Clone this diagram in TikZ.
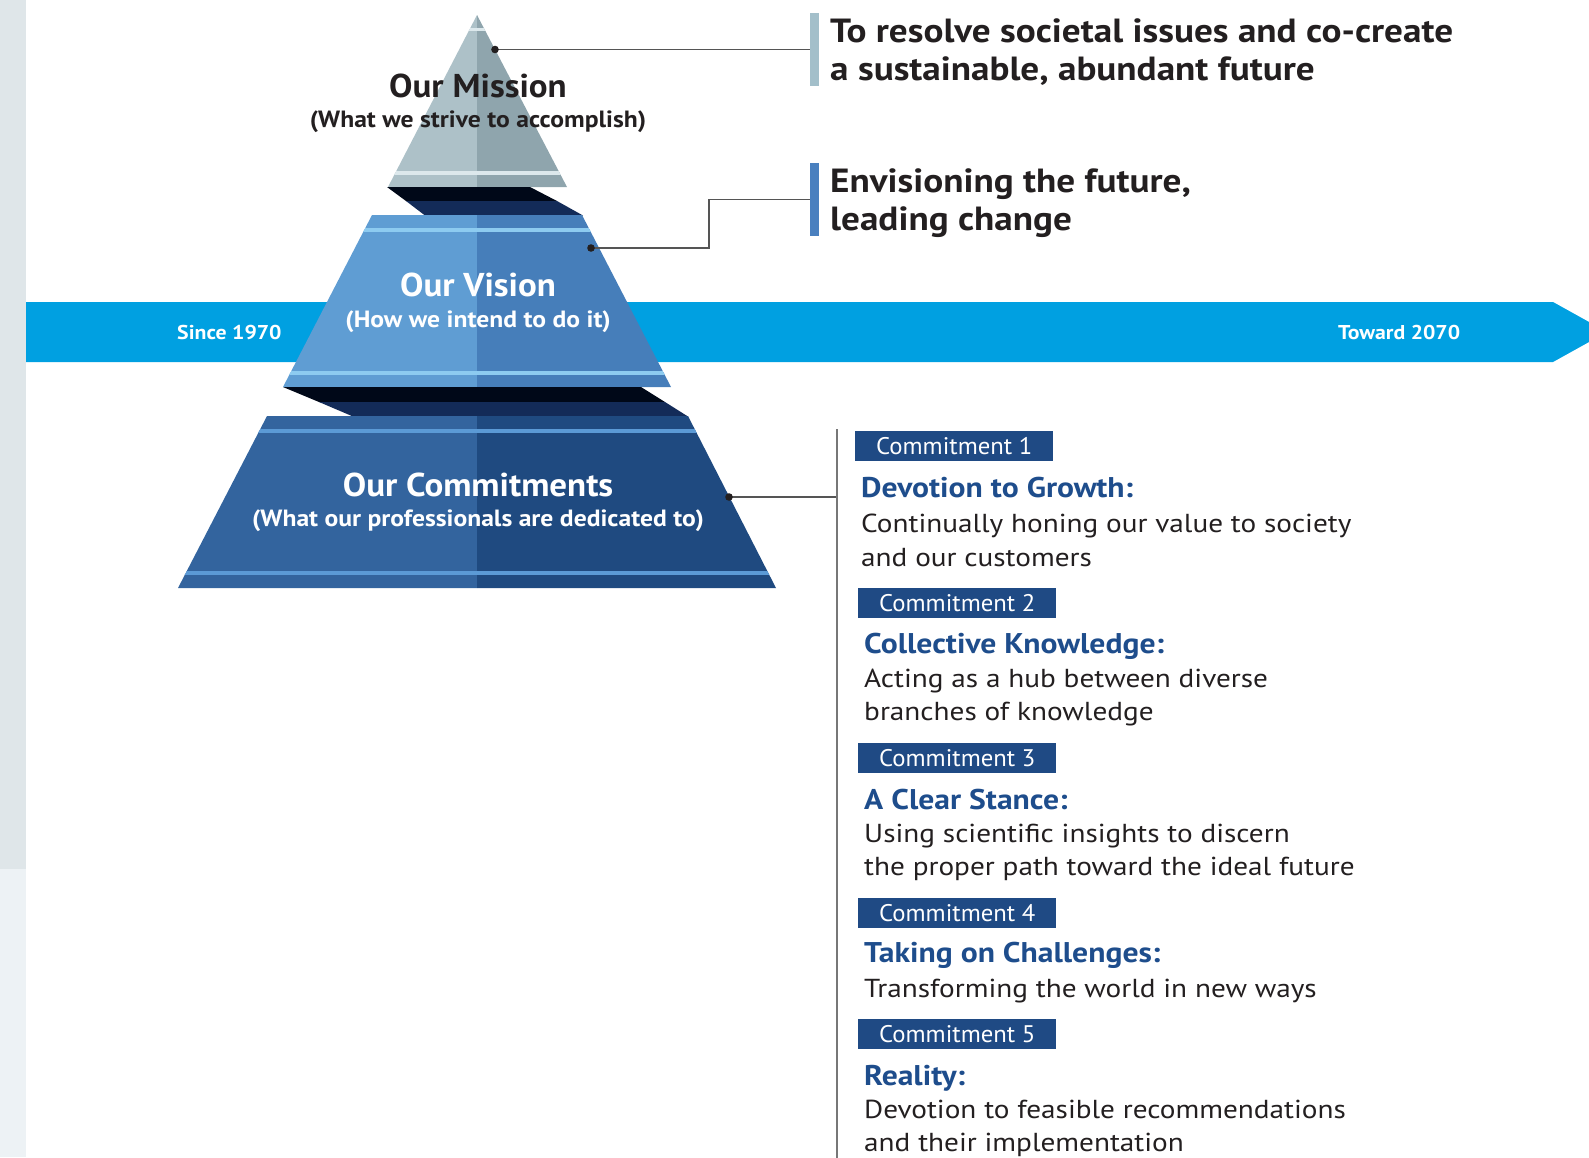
\documentclass[tikz,border=0pt]{standalone}
\usepackage{fontspec}
\setmainfont{PT Sans}
\newfontfamily\fbigtitle{PT Sans}[FakeStretch=1.06]
\newfontfamily\fsubtitle{PT Sans}[FakeStretch=1.09]
\newfontfamily\fright{PT Sans}[FakeStretch=1.11]
\newfontfamily\fyear{PT Sans}[FakeStretch=1.09]
\newfontfamily\flabel{PT Sans}[FakeStretch=1.03]
\newfontfamily\fctitle{PT Sans}[FakeStretch=1.11]
\newfontfamily\fcbody{PT Sans}[FakeStretch=1.125]
\definecolor{stripA}{HTML}{DFE6E9}
\definecolor{stripB}{HTML}{EDF2F5}
\definecolor{bandblue}{HTML}{00A0E1}
\definecolor{misL}{HTML}{ADC1C8}
\definecolor{misR}{HTML}{8FA5AD}
\definecolor{misS}{HTML}{DCE8EC}
\definecolor{visL}{HTML}{5F9DD3}
\definecolor{visR}{HTML}{467EBA}
\definecolor{visS}{HTML}{8DCBF0}
\definecolor{comL}{HTML}{33649E}
\definecolor{comR}{HTML}{1F4A80}
\definecolor{comS}{HTML}{5B9AD6}
\definecolor{shadeA}{HTML}{000818}
\definecolor{shadeB}{HTML}{132B58}
\definecolor{ink}{HTML}{231F20}
\definecolor{titleblue}{HTML}{1E4D8C}
\definecolor{boxblue}{HTML}{1F4A84}
\definecolor{mbarc}{HTML}{A3BFCA}
\definecolor{vbarc}{HTML}{4A80BF}
\definecolor{linec}{HTML}{555555}
\tikzset{
  bigtitle/.style={font=\fbigtitle\fontsize{33}{36}\selectfont\bfseries, inner sep=0, anchor=base},
  subtitle/.style={font=\fsubtitle\fontsize{23.5}{26}\selectfont\bfseries, inner sep=0, anchor=base},
  righttext/.style={font=\fright\fontsize{33.5}{38}\selectfont\bfseries, text=ink, inner sep=0, anchor=base west},
  yeartext/.style={font=\fyear\fontsize{20}{22}\selectfont\bfseries, text=white, inner sep=0, anchor=base west},
  cbox/.style={fill=boxblue, text=white, font=\flabel\fontsize{24}{26}\selectfont, minimum width=198, minimum height=30, inner sep=0, anchor=north west},
  ctitle/.style={font=\fctitle\fontsize{28.5}{30}\selectfont\bfseries, text=titleblue, inner sep=0, anchor=base west},
  cbody/.style={font=\fcbody\fontsize{26}{34}\selectfont, text=ink, inner sep=0, anchor=base west},
  bar/.style={minimum width=9, minimum height=73, inner sep=0, anchor=north west},
  conn/.style={draw=linec, line width=1.4},
  dotc/.style={fill=ink}
}
\begin{document}
\begin{tikzpicture}[x=1pt,y=-1pt]
\useasboundingbox (0,0) rectangle (1589,1157);
% left strip
\fill[stripA] (0,0) rectangle (26,869);
\fill[stripB] (0,869) rectangle (26,1157);
% blue timeline arrow
\fill[bandblue] (26,302) -- (1553,302) -- (1607,332) -- (1553,362) -- (26,362) -- cycle;
% ---- Mission triangle
\fill[misL] (477,15) -- (388,187) -- (477,187) -- cycle;
\fill[misR] (477,15) -- (567,187) -- (477,187) -- cycle;
\begin{scope}
  \clip (477,15) -- (388,187) -- (567,187) -- cycle;
  \fill[misS] (380,28) rectangle (580,31);
  \fill[misS] (380,171) rectangle (580,175);
\end{scope}
% shadow band 1
\fill[shadeA] (387,187) -- (530,187) -- (557,201) -- (406,201) -- cycle;
\fill[shadeB] (406,201) -- (557,201) -- (583,215.5) -- (425,215.5) -- cycle;
% ---- Vision trapezoid
\fill[visL] (372,215) -- (477,215) -- (477,387) -- (283,387) -- cycle;
\fill[visR] (477,215) -- (582,215) -- (671,387) -- (477,387) -- cycle;
\begin{scope}
  \clip (372,215) -- (582,215) -- (671,387) -- (283,387) -- cycle;
  \fill[visS] (270,228) rectangle (690,232);
  \fill[visS] (270,371) rectangle (690,375);
\end{scope}
% shadow band 2
\fill[shadeA] (283,387) -- (641,387) -- (665,402) -- (319,402) -- cycle;
\fill[shadeB] (319,402) -- (665,402) -- (688,416.5) -- (353,416.5) -- cycle;
% ---- Commitments trapezoid
\fill[comL] (267,416) -- (477,416) -- (477,588) -- (178,588) -- cycle;
\fill[comR] (477,416) -- (688,416) -- (776,588) -- (477,588) -- cycle;
\begin{scope}
  \clip (267,416) -- (688,416) -- (776,588) -- (178,588) -- cycle;
  \fill[comS] (170,429) rectangle (790,433);
  \fill[comS] (170,571) rectangle (790,575);
\end{scope}
% ---- pyramid texts
\node[bigtitle, text=ink] (mt) at (478,97) {Our Mission};
\node[subtitle, text=ink] (ms) at (478,127) {(What we strive to accomplish)};
\node[bigtitle, text=white] (vt) at (478,296) {Our Vision};
\node[subtitle, text=white] (vs) at (478,327) {(How we intend to do it)};
\node[bigtitle, text=white] (ct) at (478,496) {Our Commitments};
\node[subtitle, text=white] (cs) at (478,526) {(What our professionals are dedicated to)};
% years
\node[yeartext] (since) at (177,339) {Since 1970};
\node[yeartext] (toward) at (1338,339) {Toward 2070};
% ---- right statements
\node[bar, fill=mbarc] (mbar) at (810,13) {};
\node[bar, fill=vbarc] (vbar) at (810,163) {};
\node[righttext] (mr1) at (830,42) {To resolve societal issues and co-create};
\node[righttext] (mr2) at (830,80) {a sustainable, abundant future};
\node[righttext] (vr1) at (830,192) {Envisioning the future,};
\node[righttext] (vr2) at (830,230) {leading change};
% ---- connectors
\coordinate (mdot) at (495,49.5);
\coordinate (vdot) at (591,248);
\coordinate (vknee) at (709,248);
\coordinate (cdot) at (729,497);
\coordinate (ctop) at (837,429);
\coordinate (cbot) at (837,1160);
\draw[conn] (mdot) -- (mbar.west |- mdot);
\draw[conn] (vdot) -- (vknee) |- (vbar.west);
\draw[conn] (cdot) -- (ctop |- cdot);
\draw[draw=linec!80, line width=1.6] (ctop) -- (cbot);
\fill[dotc] (mdot) circle (3.8);
\fill[dotc] (vdot) circle (3.8);
\fill[dotc] (cdot) circle (3.8);
% ---- commitments list
\node[cbox] (b1) at (855,431) {Commitment 1};
\node[ctitle] (t1) at (861,497) {Devotion to Growth:};
\node[cbody] (d1a) at (861,532) {Continually honing our value to society};
\node[cbody] (d1b) at (861,566) {and our customers};
\node[cbox] (b2) at (858,588) {Commitment 2};
\node[ctitle] (t2) at (864,653) {Collective Knowledge:};
\node[cbody] (d2a) at (864,687) {Acting as a hub between diverse};
\node[cbody] (d2b) at (864,720) {branches of knowledge};
\node[cbox] (b3) at (858,743) {Commitment 3};
\node[ctitle] (t3) at (864,809) {A Clear Stance:};
\node[cbody] (d3a) at (864,842) {Using scientific insights to discern};
\node[cbody] (d3b) at (864,875) {the proper path toward the ideal future};
\node[cbox] (b4) at (858,898) {Commitment 4};
\node[ctitle] (t4) at (864,962) {Taking on Challenges:};
\node[cbody] (d4a) at (864,997) {Transforming the world in new ways};
\node[cbox] (b5) at (858,1019) {Commitment 5};
\node[ctitle] (t5) at (864,1085) {Reality:};
\node[cbody] (d5a) at (864,1118) {Devotion to feasible recommendations};
\node[cbody] (d5b) at (864,1151) {and their implementation};
\end{tikzpicture}
\end{document}
